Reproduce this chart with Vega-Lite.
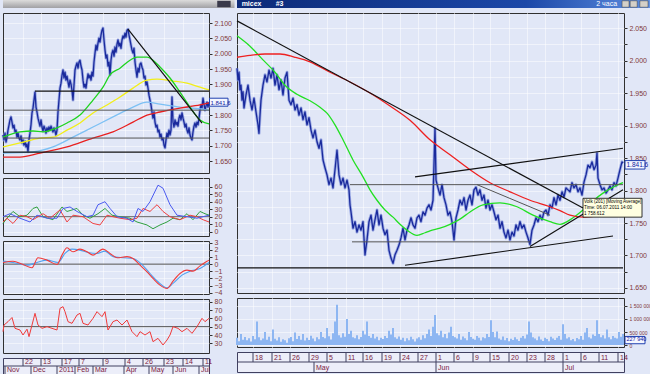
{
"$schema": "https://vega.github.io/schema/vega-lite/v6.json",
"padding": {"left": 1, "top": 0, "right": 0, "bottom": 0},
"background": "#e1e7f7",
"spacing": 0,
"config": {
  "view": {"stroke": "#303030", "strokeWidth": 1, "fill": "#e1e7f7"},
  "axis": {"labelFont": "Liberation Sans", "labelFontSize": 7, "labelColor": "#803838", "tickColor": "#303030", "tickSize": 3, "domain": false, "gridColor": "#ffffff", "gridDash": [1, 1], "gridOpacity": 1, "labelPadding": 2, "labelOverlap": false, "labelFlush": false, "labelBound": false},
  "text": {"font": "Liberation Sans"},
  "line": {"strokeWidth": 1.2, "clip": true, "strokeJoin": "round"},
  "rule": {"clip": true}
},
"datasets": {
  "lp": [{"t":0,"v":1735},{"t":1,"v":1719},{"t":2,"v":1741},{"t":3,"v":1712},{"t":4,"v":1728},{"t":5,"v":1751},{"t":6,"v":1767},{"t":7,"v":1784},{"t":8,"v":1794},{"t":9,"v":1777},{"t":10,"v":1758},{"t":11,"v":1767},{"t":12,"v":1745},{"t":13,"v":1751},{"t":14,"v":1728},{"t":15,"v":1741},{"t":16,"v":1725},{"t":17,"v":1719},{"t":18,"v":1732},{"t":19,"v":1709},{"t":20,"v":1719},{"t":21,"v":1702},{"t":22,"v":1715},{"t":23,"v":1696},{"t":24,"v":1706},{"t":25,"v":1680},{"t":26,"v":1719},{"t":27,"v":1741},{"t":28,"v":1768},{"t":29,"v":1807},{"t":30,"v":1823},{"t":31,"v":1849},{"t":32,"v":1875},{"t":33,"v":1826},{"t":34,"v":1810},{"t":35,"v":1790},{"t":36,"v":1777},{"t":37,"v":1764},{"t":38,"v":1784},{"t":39,"v":1761},{"t":40,"v":1748},{"t":41,"v":1764},{"t":42,"v":1755},{"t":43,"v":1741},{"t":44,"v":1758},{"t":45,"v":1748},{"t":46,"v":1761},{"t":47,"v":1751},{"t":48,"v":1764},{"t":49,"v":1755},{"t":50,"v":1745},{"t":51,"v":1758},{"t":52,"v":1748},{"t":53,"v":1735},{"t":54,"v":1751},{"t":55,"v":1810},{"t":56,"v":1849},{"t":57,"v":1888},{"t":58,"v":1904},{"t":59,"v":1930},{"t":60,"v":1947},{"t":61,"v":1921},{"t":62,"v":1940},{"t":63,"v":1914},{"t":64,"v":1927},{"t":65,"v":1908},{"t":66,"v":1891},{"t":67,"v":1914},{"t":68,"v":1901},{"t":69,"v":1881},{"t":70,"v":1849},{"t":71,"v":1898},{"t":72,"v":1947},{"t":73,"v":1960},{"t":74,"v":1970},{"t":75,"v":1953},{"t":76,"v":1973},{"t":77,"v":1979},{"t":78,"v":1960},{"t":79,"v":1947},{"t":80,"v":1914},{"t":81,"v":1891},{"t":82,"v":1901},{"t":83,"v":1888},{"t":84,"v":1914},{"t":85,"v":1934},{"t":86,"v":1921},{"t":87,"v":1930},{"t":88,"v":1914},{"t":89,"v":1940},{"t":90,"v":1927},{"t":91,"v":1973},{"t":92,"v":2002},{"t":93,"v":2028},{"t":94,"v":2012},{"t":95,"v":2035},{"t":96,"v":2051},{"t":97,"v":2038},{"t":98,"v":2061},{"t":99,"v":2077},{"t":100,"v":2084},{"t":101,"v":2045},{"t":102,"v":2012},{"t":103,"v":1986},{"t":104,"v":1996},{"t":105,"v":1960},{"t":106,"v":1973},{"t":107,"v":1931},{"t":108,"v":1979},{"t":109,"v":2002},{"t":110,"v":2012},{"t":111,"v":1992},{"t":112,"v":2022},{"t":113,"v":2005},{"t":114,"v":2031},{"t":115,"v":2045},{"t":116,"v":2025},{"t":117,"v":2035},{"t":118,"v":2018},{"t":119,"v":2045},{"t":120,"v":2058},{"t":121,"v":2051},{"t":122,"v":2067},{"t":123,"v":2054},{"t":124,"v":2077},{"t":125,"v":2080},{"t":126,"v":2061},{"t":127,"v":2045},{"t":128,"v":2028},{"t":129,"v":2012},{"t":130,"v":2002},{"t":131,"v":2018},{"t":132,"v":1973},{"t":133,"v":1947},{"t":134,"v":1924},{"t":135,"v":1953},{"t":136,"v":1940},{"t":137,"v":1966},{"t":138,"v":1970},{"t":139,"v":1956},{"t":140,"v":1947},{"t":141,"v":1921},{"t":142,"v":1927},{"t":143,"v":1898},{"t":144,"v":1908},{"t":145,"v":1888},{"t":146,"v":1865},{"t":147,"v":1849},{"t":148,"v":1833},{"t":149,"v":1810},{"t":150,"v":1790},{"t":151,"v":1810},{"t":152,"v":1777},{"t":153,"v":1761},{"t":154,"v":1767},{"t":155,"v":1745},{"t":156,"v":1751},{"t":157,"v":1728},{"t":158,"v":1738},{"t":159,"v":1719},{"t":160,"v":1725},{"t":161,"v":1702},{"t":162,"v":1693},{"t":163,"v":1719},{"t":164,"v":1741},{"t":165,"v":1728},{"t":166,"v":1751},{"t":167,"v":1735},{"t":168,"v":1751},{"t":169,"v":1859},{"t":170,"v":1777},{"t":171,"v":1761},{"t":172,"v":1784},{"t":173,"v":1768},{"t":174,"v":1777},{"t":175,"v":1764},{"t":176,"v":1790},{"t":177,"v":1800},{"t":178,"v":1784},{"t":179,"v":1807},{"t":180,"v":1790},{"t":181,"v":1777},{"t":182,"v":1761},{"t":183,"v":1771},{"t":184,"v":1751},{"t":185,"v":1741},{"t":186,"v":1758},{"t":187,"v":1735},{"t":188,"v":1725},{"t":189,"v":1719},{"t":190,"v":1745},{"t":191,"v":1764},{"t":192,"v":1774},{"t":193,"v":1761},{"t":194,"v":1777},{"t":195,"v":1768},{"t":196,"v":1790},{"t":197,"v":1816},{"t":198,"v":1833},{"t":199,"v":1823},{"t":200,"v":1855},{"t":201,"v":1836},{"t":202,"v":1816},{"t":203,"v":1829},{"t":204,"v":1842},{"t":205,"v":1826},{"t":206,"v":1842}],
  "lg": [{"t":0,"v":1728},{"t":17,"v":1745},{"t":30,"v":1748},{"t":40,"v":1745},{"t":54,"v":1758},{"t":64,"v":1774},{"t":77,"v":1800},{"t":90,"v":1849},{"t":100,"v":1891},{"t":107,"v":1931},{"t":117,"v":1953},{"t":127,"v":1979},{"t":134,"v":1989},{"t":144,"v":1989},{"t":150,"v":1979},{"t":157,"v":1957},{"t":167,"v":1921},{"t":177,"v":1875},{"t":187,"v":1826},{"t":197,"v":1784},{"t":206,"v":1771}],
  "ly": [{"t":0,"v":1696},{"t":17,"v":1709},{"t":37,"v":1725},{"t":50,"v":1728},{"t":64,"v":1751},{"t":77,"v":1774},{"t":90,"v":1807},{"t":104,"v":1833},{"t":117,"v":1859},{"t":130,"v":1888},{"t":144,"v":1914},{"t":154,"v":1917},{"t":170,"v":1911},{"t":184,"v":1904},{"t":197,"v":1891},{"t":206,"v":1882}],
  "lb": [{"t":0,"v":1676},{"t":30,"v":1680},{"t":50,"v":1696},{"t":70,"v":1728},{"t":90,"v":1761},{"t":110,"v":1794},{"t":130,"v":1826},{"t":144,"v":1842},{"t":157,"v":1836},{"t":177,"v":1826},{"t":197,"v":1820},{"t":206,"v":1816}],
  "lr": [{"t":0,"v":1663},{"t":17,"v":1663},{"t":37,"v":1676},{"t":64,"v":1696},{"t":90,"v":1725},{"t":110,"v":1745},{"t":130,"v":1777},{"t":144,"v":1800},{"t":157,"v":1810},{"t":177,"v":1823},{"t":197,"v":1833},{"t":206,"v":1840}],
  "llb": [{"t":125,"t2":199,"v":2080,"v2":1774},{"t":32,"t2":206,"v":1878,"v2":1878},{"t":0,"t2":206,"v":1679,"v2":1679}],
  "llg": [{"t":0,"t2":206,"v":1816,"v2":1816},{"t":0,"t2":206,"v":1725,"v2":1725}],
  "lbox": [{"t":206.5,"t2":225,"v":1855,"v2":1829,"s":"1.841.6"}],
  "ih": [{"t":0,"t2":206,"v":20,"v2":20}],
  "ia": [{"t":0,"v":20},{"t":7,"v":24},{"t":17,"v":18},{"t":27,"v":13},{"t":34,"v":22},{"t":44,"v":18},{"t":54,"v":18},{"t":60,"v":31},{"t":67,"v":33},{"t":74,"v":27},{"t":84,"v":20},{"t":90,"v":22},{"t":95,"v":36},{"t":102,"v":40},{"t":107,"v":31},{"t":114,"v":20},{"t":124,"v":18},{"t":130,"v":13},{"t":135,"v":31},{"t":140,"v":27},{"t":147,"v":40},{"t":155,"v":62},{"t":160,"v":58},{"t":167,"v":36},{"t":174,"v":22},{"t":184,"v":20},{"t":194,"v":18},{"t":200,"v":20},{"t":206,"v":22}],
  "ib": [{"t":0,"v":13},{"t":4,"v":18},{"t":10,"v":11},{"t":17,"v":22},{"t":24,"v":20},{"t":30,"v":16},{"t":40,"v":24},{"t":47,"v":18},{"t":57,"v":29},{"t":64,"v":13},{"t":70,"v":22},{"t":80,"v":20},{"t":90,"v":11},{"t":97,"v":9},{"t":104,"v":22},{"t":110,"v":20},{"t":117,"v":18},{"t":127,"v":16},{"t":134,"v":18},{"t":140,"v":31},{"t":147,"v":27},{"t":154,"v":36},{"t":160,"v":27},{"t":167,"v":20},{"t":177,"v":16},{"t":187,"v":22},{"t":194,"v":20},{"t":200,"v":16},{"t":206,"v":13}],
  "ic": [{"t":0,"v":11},{"t":4,"v":18},{"t":10,"v":27},{"t":17,"v":20},{"t":24,"v":22},{"t":30,"v":31},{"t":34,"v":33},{"t":40,"v":20},{"t":50,"v":16},{"t":59,"v":33},{"t":64,"v":27},{"t":74,"v":31},{"t":80,"v":22},{"t":87,"v":18},{"t":95,"v":24},{"t":102,"v":31},{"t":109,"v":22},{"t":117,"v":20},{"t":127,"v":18},{"t":134,"v":13},{"t":144,"v":9},{"t":150,"v":4},{"t":157,"v":9},{"t":164,"v":13},{"t":170,"v":18},{"t":177,"v":16},{"t":184,"v":24},{"t":190,"v":16},{"t":197,"v":27},{"t":202,"v":24},{"t":206,"v":22}],
  "mh": [{"t":0,"t2":206,"v":0,"v2":0}],
  "ma": [{"t":0,"v":0.23},{"t":10,"v":0.4},{"t":20,"v":-0.06},{"t":29,"v":-0.5},{"t":35,"v":0.9},{"t":44,"v":0.56},{"t":54,"v":-0.06},{"t":59,"v":1.26},{"t":64,"v":2.29},{"t":70,"v":1.73},{"t":77,"v":2.1},{"t":84,"v":1.73},{"t":90,"v":1.26},{"t":100,"v":2.1},{"t":107,"v":1.5},{"t":114,"v":0.9},{"t":124,"v":1.05},{"t":130,"v":0.8},{"t":137,"v":-0.15},{"t":144,"v":-1.08},{"t":150,"v":-2.0},{"t":157,"v":-2.94},{"t":164,"v":-3.4},{"t":170,"v":-2.38},{"t":177,"v":-1.31},{"t":184,"v":-0.84},{"t":190,"v":-0.98},{"t":197,"v":-0.24},{"t":204,"v":0.4},{"t":206,"v":0.56}],
  "mb": [{"t":0,"v":0.42},{"t":10,"v":0.23},{"t":24,"v":-0.14},{"t":34,"v":0.23},{"t":44,"v":0.56},{"t":55,"v":0.23},{"t":62,"v":1.5},{"t":69,"v":2.1},{"t":77,"v":1.96},{"t":85,"v":1.64},{"t":94,"v":1.5},{"t":102,"v":1.82},{"t":110,"v":1.05},{"t":120,"v":0.9},{"t":130,"v":0.8},{"t":139,"v":-0.06},{"t":147,"v":-1.31},{"t":155,"v":-2.47},{"t":164,"v":-3.31},{"t":170,"v":-2.7},{"t":179,"v":-1.54},{"t":187,"v":-0.98},{"t":197,"v":-0.6},{"t":206,"v":0.23}],
  "sh": [{"t":0,"t2":206,"v":50,"v2":50}],
  "rs": [{"t":0,"v":44},{"t":1,"v":52},{"t":5,"v":56},{"t":9,"v":61},{"t":12,"v":48},{"t":17,"v":46},{"t":20,"v":40},{"t":24,"v":47},{"t":26,"v":38},{"t":29,"v":52},{"t":32,"v":66},{"t":35,"v":52},{"t":39,"v":48},{"t":44,"v":50},{"t":49,"v":48},{"t":54,"v":46},{"t":57,"v":72},{"t":60,"v":74},{"t":62,"v":68},{"t":65,"v":56},{"t":69,"v":54},{"t":74,"v":64},{"t":77,"v":66},{"t":80,"v":54},{"t":85,"v":52},{"t":90,"v":60},{"t":94,"v":68},{"t":99,"v":62},{"t":102,"v":68},{"t":105,"v":46},{"t":110,"v":56},{"t":114,"v":58},{"t":119,"v":52},{"t":124,"v":58},{"t":129,"v":44},{"t":134,"v":38},{"t":137,"v":44},{"t":142,"v":40},{"t":147,"v":44},{"t":150,"v":32},{"t":155,"v":36},{"t":160,"v":28},{"t":164,"v":34},{"t":167,"v":40},{"t":170,"v":50},{"t":175,"v":48},{"t":179,"v":44},{"t":184,"v":48},{"t":189,"v":42},{"t":194,"v":50},{"t":199,"v":60},{"t":202,"v":56},{"t":206,"v":60}],
  "ld": [{"t":20,"v":1,"v2":2,"s":"22"},{"t":38,"v":1,"v2":2,"s":"13"},{"t":59,"v":1,"v2":2,"s":"17"},{"t":76,"v":1,"v2":2,"s":"7"},{"t":100,"v":1,"v2":2,"s":"9"},{"t":122,"v":1,"v2":2,"s":"4"},{"t":140,"v":1,"v2":2,"s":"26"},{"t":161,"v":1,"v2":2,"s":"23"},{"t":180,"v":1,"v2":2,"s":"14"},{"t":200,"v":1,"v2":2,"s":"11"},{"t":2,"v":0,"v2":1,"s":"Nov"},{"t":28,"v":0,"v2":1,"s":"Dec"},{"t":54,"v":0,"v2":1,"s":"2011"},{"t":72,"v":0,"v2":1,"s":"Feb"},{"t":90,"v":0,"v2":1,"s":"Mar"},{"t":121,"v":0,"v2":1,"s":"Apr"},{"t":146,"v":0,"v2":1,"s":"May"},{"t":170,"v":0,"v2":1,"s":"Jun"},{"t":196,"v":0,"v2":1,"s":"Jul"}],
  "rp": [{"t":0,"v":1988},{"t":1,"v":1970},{"t":2,"v":1982},{"t":3,"v":1955},{"t":4,"v":1962},{"t":5,"v":1939},{"t":6,"v":1952},{"t":7,"v":1927},{"t":9,"v":1947},{"t":11,"v":1962},{"t":13,"v":1939},{"t":15,"v":1924},{"t":17,"v":1942},{"t":19,"v":1921},{"t":21,"v":1901},{"t":22,"v":1888},{"t":23,"v":1916},{"t":24,"v":1939},{"t":26,"v":1962},{"t":28,"v":1978},{"t":30,"v":1967},{"t":32,"v":1985},{"t":34,"v":1973},{"t":36,"v":1988},{"t":38,"v":1962},{"t":40,"v":1978},{"t":42,"v":1955},{"t":44,"v":1970},{"t":46,"v":1947},{"t":48,"v":1973},{"t":50,"v":1982},{"t":52,"v":1939},{"t":54,"v":1932},{"t":56,"v":1942},{"t":58,"v":1924},{"t":60,"v":1932},{"t":62,"v":1916},{"t":64,"v":1927},{"t":66,"v":1909},{"t":68,"v":1921},{"t":70,"v":1901},{"t":72,"v":1912},{"t":74,"v":1893},{"t":76,"v":1881},{"t":78,"v":1893},{"t":80,"v":1875},{"t":82,"v":1865},{"t":84,"v":1878},{"t":86,"v":1847},{"t":88,"v":1835},{"t":90,"v":1824},{"t":92,"v":1809},{"t":94,"v":1819},{"t":96,"v":1804},{"t":98,"v":1832},{"t":100,"v":1862},{"t":102,"v":1824},{"t":104,"v":1809},{"t":106,"v":1819},{"t":108,"v":1804},{"t":110,"v":1816},{"t":112,"v":1801},{"t":113,"v":1778},{"t":114,"v":1767},{"t":116,"v":1742},{"t":118,"v":1752},{"t":120,"v":1736},{"t":122,"v":1747},{"t":124,"v":1739},{"t":126,"v":1752},{"t":128,"v":1701},{"t":130,"v":1724},{"t":132,"v":1752},{"t":134,"v":1762},{"t":136,"v":1739},{"t":138,"v":1755},{"t":140,"v":1770},{"t":142,"v":1747},{"t":144,"v":1762},{"t":146,"v":1742},{"t":148,"v":1732},{"t":150,"v":1739},{"t":152,"v":1708},{"t":154,"v":1696},{"t":156,"v":1688},{"t":158,"v":1701},{"t":160,"v":1708},{"t":162,"v":1716},{"t":164,"v":1727},{"t":166,"v":1742},{"t":168,"v":1724},{"t":170,"v":1739},{"t":172,"v":1747},{"t":174,"v":1758},{"t":176,"v":1747},{"t":178,"v":1742},{"t":180,"v":1758},{"t":182,"v":1762},{"t":184,"v":1752},{"t":186,"v":1767},{"t":188,"v":1762},{"t":190,"v":1773},{"t":192,"v":1778},{"t":194,"v":1770},{"t":196,"v":1785},{"t":198,"v":1896},{"t":199,"v":1816},{"t":201,"v":1804},{"t":203,"v":1793},{"t":205,"v":1809},{"t":207,"v":1789},{"t":209,"v":1778},{"t":211,"v":1762},{"t":213,"v":1767},{"t":215,"v":1752},{"t":217,"v":1724},{"t":219,"v":1758},{"t":221,"v":1770},{"t":223,"v":1785},{"t":225,"v":1778},{"t":227,"v":1789},{"t":229,"v":1770},{"t":231,"v":1785},{"t":233,"v":1793},{"t":235,"v":1778},{"t":237,"v":1801},{"t":239,"v":1805},{"t":241,"v":1793},{"t":243,"v":1801},{"t":245,"v":1785},{"t":247,"v":1793},{"t":249,"v":1773},{"t":251,"v":1785},{"t":253,"v":1770},{"t":255,"v":1778},{"t":257,"v":1767},{"t":259,"v":1755},{"t":261,"v":1762},{"t":263,"v":1742},{"t":265,"v":1752},{"t":267,"v":1736},{"t":269,"v":1727},{"t":271,"v":1739},{"t":273,"v":1724},{"t":275,"v":1736},{"t":277,"v":1730},{"t":279,"v":1747},{"t":281,"v":1739},{"t":283,"v":1752},{"t":285,"v":1742},{"t":287,"v":1747},{"t":289,"v":1736},{"t":291,"v":1727},{"t":293,"v":1717},{"t":295,"v":1739},{"t":297,"v":1747},{"t":299,"v":1758},{"t":301,"v":1752},{"t":303,"v":1762},{"t":305,"v":1755},{"t":307,"v":1767},{"t":309,"v":1770},{"t":311,"v":1762},{"t":313,"v":1778},{"t":315,"v":1773},{"t":317,"v":1789},{"t":319,"v":1778},{"t":321,"v":1793},{"t":323,"v":1785},{"t":325,"v":1798},{"t":327,"v":1790},{"t":329,"v":1804},{"t":331,"v":1801},{"t":333,"v":1798},{"t":335,"v":1812},{"t":337,"v":1804},{"t":339,"v":1809},{"t":341,"v":1798},{"t":343,"v":1804},{"t":345,"v":1793},{"t":347,"v":1813},{"t":349,"v":1824},{"t":351,"v":1839},{"t":353,"v":1835},{"t":355,"v":1844},{"t":357,"v":1832},{"t":359,"v":1839},{"t":360,"v":1858},{"t":361,"v":1819},{"t":363,"v":1809},{"t":365,"v":1801},{"t":367,"v":1804},{"t":369,"v":1796},{"t":371,"v":1801},{"t":373,"v":1807},{"t":375,"v":1801},{"t":377,"v":1812},{"t":379,"v":1807},{"t":381,"v":1819},{"t":383,"v":1832},{"t":385,"v":1844},{"t":386,"v":1842}],
  "rg": [{"t":0,"v":2038},{"t":13,"v":2022},{"t":26,"v":2001},{"t":38,"v":1982},{"t":48,"v":1962},{"t":60,"v":1948},{"t":73,"v":1938},{"t":83,"v":1928},{"t":90,"v":1919},{"t":98,"v":1901},{"t":106,"v":1878},{"t":116,"v":1847},{"t":126,"v":1821},{"t":133,"v":1801},{"t":140,"v":1785},{"t":148,"v":1770},{"t":156,"v":1759},{"t":163,"v":1748},{"t":170,"v":1739},{"t":180,"v":1731},{"t":188,"v":1735},{"t":193,"v":1738},{"t":203,"v":1742},{"t":213,"v":1748},{"t":223,"v":1756},{"t":233,"v":1767},{"t":246,"v":1778},{"t":263,"v":1781},{"t":280,"v":1775},{"t":296,"v":1762},{"t":313,"v":1752},{"t":323,"v":1748},{"t":336,"v":1758},{"t":346,"v":1770},{"t":356,"v":1784},{"t":366,"v":1796},{"t":376,"v":1805},{"t":386,"v":1812}],
  "rr": [{"t":0,"v":2005},{"t":13,"v":2008},{"t":28,"v":2010},{"t":43,"v":2010},{"t":58,"v":2005},{"t":73,"v":1998},{"t":93,"v":1982},{"t":113,"v":1967},{"t":133,"v":1950},{"t":153,"v":1930},{"t":173,"v":1908},{"t":193,"v":1878},{"t":213,"v":1855},{"t":233,"v":1832},{"t":253,"v":1812},{"t":273,"v":1798},{"t":293,"v":1785},{"t":313,"v":1775},{"t":323,"v":1769},{"t":333,"v":1762},{"t":346,"v":1759},{"t":366,"v":1762},{"t":386,"v":1764}],
  "rlb": [{"t":0,"t2":346,"v":2061,"v2":1773},{"t":178,"t2":386,"v":1821,"v2":1865},{"t":168,"t2":376,"v":1685,"v2":1730},{"t":293,"t2":386,"v":1714,"v2":1801},{"t":0,"t2":386,"v":1681,"v2":1681}],
  "rlg": [{"t":240,"t2":313,"v":1809,"v2":1762},{"t":113,"t2":386,"v":1809,"v2":1809},{"t":115,"t2":293,"v":1721,"v2":1721}],
  "tip": [{"t":346,"t2":405,"v":1788,"v2":1759}],
  "tipt": [{"t":347,"v":1787,"s":"Volk (201) [Moving Average]"},{"t":347,"v":1778,"s":"Time: 06.07.2011 14:00"},{"t":347,"v":1769,"s":"1 758.612"}],
  "rbox": [{"t":388,"t2":408,"v":1846,"v2":1833,"s":"1.841.6"}],
  "vbox": [{"t":388,"t2":408,"v":330000,"v2":50000,"s":"227 940"}],
  "rv": [{"t":0,"v":280000},{"t":2,"v":150000},{"t":4,"v":420000},{"t":6,"v":200000},{"t":8,"v":310000},{"t":10,"v":180000},{"t":12,"v":260000},{"t":14,"v":140000},{"t":16,"v":350000},{"t":18,"v":220000},{"t":20,"v":900000},{"t":22,"v":300000},{"t":24,"v":180000},{"t":26,"v":250000},{"t":28,"v":500000},{"t":30,"v":200000},{"t":32,"v":320000},{"t":34,"v":150000},{"t":36,"v":600000},{"t":38,"v":240000},{"t":40,"v":170000},{"t":42,"v":300000},{"t":44,"v":130000},{"t":46,"v":220000},{"t":48,"v":180000},{"t":50,"v":90000},{"t":52,"v":260000},{"t":54,"v":310000},{"t":56,"v":150000},{"t":58,"v":480000},{"t":60,"v":230000},{"t":62,"v":350000},{"t":64,"v":200000},{"t":66,"v":420000},{"t":68,"v":170000},{"t":70,"v":280000},{"t":72,"v":190000},{"t":74,"v":360000},{"t":76,"v":250000},{"t":78,"v":150000},{"t":80,"v":300000},{"t":82,"v":220000},{"t":84,"v":500000},{"t":86,"v":310000},{"t":88,"v":260000},{"t":90,"v":650000},{"t":92,"v":340000},{"t":94,"v":210000},{"t":96,"v":450000},{"t":98,"v":900000},{"t":100,"v":1550000},{"t":102,"v":380000},{"t":104,"v":290000},{"t":106,"v":450000},{"t":108,"v":320000},{"t":110,"v":1000000},{"t":112,"v":420000},{"t":114,"v":550000},{"t":116,"v":300000},{"t":118,"v":260000},{"t":120,"v":380000},{"t":122,"v":220000},{"t":124,"v":310000},{"t":126,"v":550000},{"t":128,"v":400000},{"t":130,"v":900000},{"t":132,"v":350000},{"t":134,"v":280000},{"t":136,"v":420000},{"t":138,"v":250000},{"t":140,"v":320000},{"t":142,"v":180000},{"t":144,"v":280000},{"t":146,"v":230000},{"t":148,"v":350000},{"t":150,"v":270000},{"t":152,"v":550000},{"t":154,"v":400000},{"t":156,"v":650000},{"t":158,"v":300000},{"t":160,"v":240000},{"t":162,"v":330000},{"t":164,"v":200000},{"t":166,"v":280000},{"t":168,"v":150000},{"t":170,"v":260000},{"t":172,"v":180000},{"t":174,"v":320000},{"t":176,"v":220000},{"t":178,"v":140000},{"t":180,"v":250000},{"t":182,"v":300000},{"t":184,"v":200000},{"t":186,"v":380000},{"t":188,"v":260000},{"t":190,"v":420000},{"t":192,"v":600000},{"t":194,"v":350000},{"t":196,"v":700000},{"t":198,"v":1150000},{"t":200,"v":450000},{"t":202,"v":380000},{"t":204,"v":550000},{"t":206,"v":300000},{"t":208,"v":420000},{"t":210,"v":260000},{"t":212,"v":480000},{"t":214,"v":700000},{"t":216,"v":350000},{"t":218,"v":300000},{"t":220,"v":250000},{"t":222,"v":420000},{"t":224,"v":200000},{"t":226,"v":330000},{"t":228,"v":260000},{"t":230,"v":180000},{"t":232,"v":500000},{"t":234,"v":310000},{"t":236,"v":240000},{"t":238,"v":200000},{"t":240,"v":350000},{"t":242,"v":280000},{"t":244,"v":170000},{"t":246,"v":300000},{"t":248,"v":260000},{"t":250,"v":420000},{"t":252,"v":310000},{"t":254,"v":950000},{"t":256,"v":500000},{"t":258,"v":300000},{"t":260,"v":520000},{"t":262,"v":250000},{"t":264,"v":200000},{"t":266,"v":330000},{"t":268,"v":180000},{"t":270,"v":270000},{"t":272,"v":150000},{"t":274,"v":240000},{"t":276,"v":190000},{"t":278,"v":300000},{"t":280,"v":220000},{"t":282,"v":160000},{"t":284,"v":280000},{"t":286,"v":350000},{"t":288,"v":250000},{"t":290,"v":400000},{"t":292,"v":900000},{"t":294,"v":480000},{"t":296,"v":300000},{"t":298,"v":250000},{"t":300,"v":180000},{"t":302,"v":330000},{"t":304,"v":210000},{"t":306,"v":160000},{"t":308,"v":280000},{"t":310,"v":230000},{"t":312,"v":150000},{"t":314,"v":320000},{"t":316,"v":250000},{"t":318,"v":190000},{"t":320,"v":280000},{"t":322,"v":350000},{"t":324,"v":200000},{"t":326,"v":800000},{"t":328,"v":420000},{"t":330,"v":250000},{"t":332,"v":300000},{"t":334,"v":180000},{"t":336,"v":230000},{"t":338,"v":150000},{"t":340,"v":270000},{"t":342,"v":220000},{"t":344,"v":350000},{"t":346,"v":200000},{"t":348,"v":480000},{"t":350,"v":650000},{"t":352,"v":300000},{"t":354,"v":250000},{"t":356,"v":400000},{"t":358,"v":350000},{"t":360,"v":950000},{"t":362,"v":420000},{"t":364,"v":300000},{"t":366,"v":380000},{"t":368,"v":250000},{"t":370,"v":600000},{"t":372,"v":300000},{"t":374,"v":220000},{"t":376,"v":350000},{"t":378,"v":280000},{"t":380,"v":250000},{"t":382,"v":500000},{"t":384,"v":320000},{"t":386,"v":420000}],
  "rd": [{"t":16,"v":1,"v2":2,"s":"18"},{"t":35,"v":1,"v2":2,"s":"21"},{"t":53,"v":1,"v2":2,"s":"26"},{"t":72,"v":1,"v2":2,"s":"29"},{"t":90,"v":1,"v2":2,"s":"5"},{"t":109,"v":1,"v2":2,"s":"11"},{"t":126,"v":1,"v2":2,"s":"16"},{"t":145,"v":1,"v2":2,"s":"19"},{"t":163,"v":1,"v2":2,"s":"24"},{"t":181,"v":1,"v2":2,"s":"27"},{"t":199,"v":1,"v2":2,"s":"1"},{"t":217,"v":1,"v2":2,"s":"6"},{"t":236,"v":1,"v2":2,"s":"9"},{"t":253,"v":1,"v2":2,"s":"15"},{"t":272,"v":1,"v2":2,"s":"20"},{"t":290,"v":1,"v2":2,"s":"23"},{"t":308,"v":1,"v2":2,"s":"28"},{"t":326,"v":1,"v2":2,"s":"1"},{"t":344,"v":1,"v2":2,"s":"6"},{"t":362,"v":1,"v2":2,"s":"11"},{"t":381,"v":1,"v2":2,"s":"14"},{"t":77,"v":0,"v2":1,"s":"May"},{"t":199,"v":0,"v2":1,"s":"Jun"},{"t":326,"v":0,"v2":1,"s":"Jul"}]
},
"hconcat": [
 {"spacing": 5, "bounds": "flush", "vconcat": [
  {"width": 206, "height": 8, "view": {"stroke": null, "fill": null},
   "encoding": {"x": {"field": "t", "type": "quantitative", "scale": {"domain": [0, 1], "nice": false, "zero": false}, "axis": null},
                "y": {"field": "v", "type": "quantitative", "scale": {"domain": [0, 1], "nice": false, "zero": false}, "axis": null}},
   "layer": [
    {"data": {"values": [{"t": 0, "t2": 1.124, "v": 0, "v2": 1}]}, "mark": {"type": "rect", "fill": {"gradient": "linear", "x1": 0, "y1": 0, "x2": 0, "y2": 1, "stops": [{"offset": 0, "color": "#dcdcdc"}, {"offset": 1, "color": "#a0a0a4"}]}}, "encoding": {"x2": {"field": "t2"}, "y2": {"field": "v2"}}},
    {"data": {"values": [{"t": 1.04, "t2": 1.105, "v": 0.1, "v2": 0.9}]}, "mark": {"type": "rect", "fill": "#3a3a4a"}, "encoding": {"x2": {"field": "t2"}, "y2": {"field": "v2"}}}
   ]},
  {"width": 206, "height": 160,
   "encoding": {"x": {"field": "t", "type": "quantitative", "scale": {"domain": [0, 206], "nice": false, "zero": false}, "axis": {"values": [20,38,59,76,100,122,140,161,180,200], "labels": false, "ticks": false, "grid": true, "title": null}},
                "y": {"field": "v", "type": "quantitative", "scale": {"domain": [1611, 2133], "nice": false, "zero": false}, "axis": {"orient": "right", "values": [1650,1700,1750,1800,1850,1900,1950,2000,2050,2100], "labelExpr": "datum.value == 1850 ? '' : replace(format(datum.value, ',d'), ',', '.')", "grid": true, "title": null}}},
   "layer": [
    {"data": {"name": "lp"}, "mark": {"type": "line", "color": "#8c9ce0", "strokeWidth": 3, "opacity": 0.8}},
    {"data": {"name": "lp"}, "mark": {"type": "line", "color": "#1a2a9c", "strokeWidth": 1.3}},
    {"data": {"name": "lb"}, "mark": {"type": "line", "color": "#7cc0f4", "interpolate": "monotone", "strokeWidth": 1.3}},
    {"data": {"name": "lr"}, "mark": {"type": "line", "color": "#e82020", "interpolate": "monotone", "strokeWidth": 1.3}},
    {"data": {"name": "ly"}, "mark": {"type": "line", "color": "#f2ee18", "interpolate": "monotone", "strokeWidth": 1.3}},
    {"data": {"name": "lg"}, "mark": {"type": "line", "color": "#1ed41e", "interpolate": "monotone", "strokeWidth": 1.3}},
    {"data": {"name": "llg"}, "mark": {"type": "rule", "color": "#555555", "strokeWidth": 1}, "encoding": {"x2": {"field": "t2"}, "y2": {"field": "v2"}}},
    {"data": {"name": "llb"}, "mark": {"type": "rule", "color": "#111111", "strokeWidth": 1.2}, "encoding": {"x2": {"field": "t2"}, "y2": {"field": "v2"}}},
    {"data": {"name": "lbox"}, "mark": {"type": "rect", "fill": "#f4f6ff", "stroke": "#2040b0", "strokeWidth": 1}, "encoding": {"x2": {"field": "t2"}, "y2": {"field": "v2"}}},
    {"data": {"name": "lbox"}, "mark": {"type": "text", "align": "left", "baseline": "top", "dx": 1, "dy": 1.5, "fontSize": 6, "color": "#1020a0"}, "encoding": {"text": {"field": "s"}}}
   ]},
  {"width": 206, "height": 58,
   "encoding": {"x": {"field": "t", "type": "quantitative", "scale": {"domain": [0, 206], "nice": false, "zero": false}, "axis": {"values": [20,38,59,76,100,122,140,161,180,200], "labels": false, "ticks": false, "grid": true, "title": null}},
                "y": {"field": "v", "type": "quantitative", "scale": {"domain": [-5.7, 71.6], "nice": false, "zero": false}, "axis": {"orient": "right", "values": [0,10,20,30,40,50,60], "grid": true, "title": null}}},
   "layer": [
    {"data": {"name": "ih"}, "mark": {"type": "rule", "color": "#606060", "strokeWidth": 1}, "encoding": {"x2": {"field": "t2"}, "y2": {"field": "v2"}}},
    {"data": {"name": "ic"}, "mark": {"type": "line", "color": "#30a040", "strokeWidth": 1}},
    {"data": {"name": "ib"}, "mark": {"type": "line", "color": "#f04040", "strokeWidth": 1}},
    {"data": {"name": "ia"}, "mark": {"type": "line", "color": "#4a5af0", "strokeWidth": 1}}
   ]},
  {"width": 206, "height": 53,
   "encoding": {"x": {"field": "t", "type": "quantitative", "scale": {"domain": [0, 206], "nice": false, "zero": false}, "axis": {"values": [20,38,59,76,100,122,140,161,180,200], "labels": false, "ticks": false, "grid": true, "title": null}},
                "y": {"field": "v", "type": "quantitative", "scale": {"domain": [-4.18, 3.24], "nice": false, "zero": false}, "axis": {"orient": "right", "values": [-4,-3,-2,-1,0,1,2,3], "grid": true, "title": null}}},
   "layer": [
    {"data": {"name": "mh"}, "mark": {"type": "rule", "color": "#505050", "strokeWidth": 1}, "encoding": {"x2": {"field": "t2"}, "y2": {"field": "v2"}}},
    {"data": {"name": "mb"}, "mark": {"type": "line", "color": "#50a0f0", "interpolate": "monotone", "strokeWidth": 1.1}},
    {"data": {"name": "ma"}, "mark": {"type": "line", "color": "#f03a3a", "interpolate": "monotone", "strokeWidth": 1.1}}
   ]},
  {"width": 206, "height": 54,
   "encoding": {"x": {"field": "t", "type": "quantitative", "scale": {"domain": [0, 206], "nice": false, "zero": false}, "axis": {"values": [20,38,59,76,100,122,140,161,180,200], "labels": false, "ticks": false, "grid": true, "title": null}},
                "y": {"field": "v", "type": "quantitative", "scale": {"domain": [18.4, 83.2], "nice": false, "zero": false}, "axis": {"orient": "right", "values": [30,40,50,60,70,80], "grid": true, "title": null}}},
   "layer": [
    {"data": {"name": "sh"}, "mark": {"type": "rule", "color": "#505050", "strokeWidth": 1}, "encoding": {"x2": {"field": "t2"}, "y2": {"field": "v2"}}},
    {"data": {"name": "rs"}, "mark": {"type": "line", "color": "#f03a3a", "strokeWidth": 1}}
   ]},
  {"width": 206, "height": 16, "view": {"stroke": "#404060", "fill": "#eceef9"},
   "encoding": {"x": {"field": "t", "type": "quantitative", "scale": {"domain": [0, 206], "nice": false, "zero": false}, "axis": null},
                "y": {"field": "v", "type": "quantitative", "scale": {"domain": [0, 2], "nice": false, "zero": false}, "axis": null}},
   "layer": [
    {"data": {"values": [{"t": 0, "t2": 206, "v": 1}]}, "mark": {"type": "rule", "color": "#404060"}, "encoding": {"x2": {"field": "t2"}}},
    {"data": {"name": "ld"}, "mark": {"type": "rule", "color": "#404060"}, "encoding": {"y2": {"field": "v2"}}},
    {"data": {"name": "ld"}, "mark": {"type": "text", "align": "left", "baseline": "bottom", "dx": 2, "dy": -1, "fontSize": 7, "color": "#7a2040"}, "encoding": {"text": {"field": "s"}}}
   ]}
 ]},
 {"spacing": 5, "bounds": "flush", "vconcat": [
  {"width": 387, "height": 8, "view": {"stroke": null, "fill": null},
   "encoding": {"x": {"field": "t", "type": "quantitative", "scale": {"domain": [0, 1], "nice": false, "zero": false}, "axis": null},
                "y": {"field": "v", "type": "quantitative", "scale": {"domain": [0, 1], "nice": false, "zero": false}, "axis": null}},
   "layer": [
    {"data": {"values": [{"t": 0, "t2": 1.067, "v": 0, "v2": 1}]}, "mark": {"type": "rect", "fill": {"gradient": "linear", "x1": 0, "y1": 0, "x2": 1, "y2": 0, "stops": [{"offset": 0, "color": "#0c2a78"}, {"offset": 0.7, "color": "#1c48a8"}, {"offset": 1, "color": "#5e8ee0"}]}}, "encoding": {"x2": {"field": "t2"}, "y2": {"field": "v2"}}},
    {"data": {"values": [{"t": 0.995, "t2": 1.013, "v": 0.1, "v2": 0.9}, {"t": 1.016, "t2": 1.034, "v": 0.1, "v2": 0.9}, {"t": 1.041, "t2": 1.062, "v": 0.1, "v2": 0.9}]}, "mark": {"type": "rect", "fill": "#d4d0c8", "stroke": "#404040", "strokeWidth": 0.5}, "encoding": {"x2": {"field": "t2"}, "y2": {"field": "v2"}}},
    {"data": {"values": [{"t": 0.012, "v": 0.5, "s": "micex"}, {"t": 0.1, "v": 0.5, "s": "#3"}]}, "mark": {"type": "text", "align": "left", "baseline": "middle", "fontSize": 7, "fontWeight": "bold", "color": "#ffffff"}, "encoding": {"text": {"field": "s"}}},
    {"data": {"values": [{"t": 0.982, "v": 0.5, "s": "2 часа"}]}, "mark": {"type": "text", "align": "right", "baseline": "middle", "fontSize": 7, "color": "#ffffff"}, "encoding": {"text": {"field": "s"}}}
   ]},
  {"width": 387, "height": 280,
   "encoding": {"x": {"field": "t", "type": "quantitative", "scale": {"domain": [0, 387], "nice": false, "zero": false}, "axis": {"values": [16,35,53,72,90,109,126,145,163,181,199,217,236,253,272,290,308,326,344,362,381], "labels": false, "ticks": false, "grid": true, "title": null}},
                "y": {"field": "v", "type": "quantitative", "scale": {"domain": [1642.3, 2073.1], "nice": false, "zero": false}, "axis": {"orient": "right", "values": [1650,1675,1700,1725,1750,1775,1800,1825,1850,1875,1900,1925,1950,1975,2000,2025,2050], "labelExpr": "datum.value % 50 == 0 ? replace(format(datum.value, ',d'), ',', '.') : ''", "grid": true, "title": null}}},
   "layer": [
    {"data": {"name": "rp"}, "mark": {"type": "line", "color": "#8c9ce0", "strokeWidth": 3, "opacity": 0.8}},
    {"data": {"name": "rp"}, "mark": {"type": "line", "color": "#1a2a9c", "strokeWidth": 1.3}},
    {"data": {"name": "rg"}, "mark": {"type": "line", "color": "#22e022", "interpolate": "monotone", "strokeWidth": 1.3}},
    {"data": {"name": "rr"}, "mark": {"type": "line", "color": "#ee2020", "interpolate": "monotone", "strokeWidth": 1.3}},
    {"data": {"name": "rlg"}, "mark": {"type": "rule", "color": "#555555", "strokeWidth": 1}, "encoding": {"x2": {"field": "t2"}, "y2": {"field": "v2"}}},
    {"data": {"name": "rlb"}, "mark": {"type": "rule", "color": "#111111", "strokeWidth": 1.2}, "encoding": {"x2": {"field": "t2"}, "y2": {"field": "v2"}}},
    {"data": {"name": "tip"}, "mark": {"type": "rect", "fill": "#ffffe1", "stroke": "#000000", "strokeWidth": 0.8}, "encoding": {"x2": {"field": "t2"}, "y2": {"field": "v2"}}},
    {"data": {"name": "tipt"}, "mark": {"type": "text", "align": "left", "baseline": "top", "fontSize": 4.6, "color": "#000000"}, "encoding": {"text": {"field": "s"}}},
    {"data": {"name": "rbox"}, "mark": {"type": "rect", "fill": "#f4f6ff", "stroke": "#2040b0", "strokeWidth": 1}, "encoding": {"x2": {"field": "t2"}, "y2": {"field": "v2"}}},
    {"data": {"name": "rbox"}, "mark": {"type": "text", "align": "left", "baseline": "top", "dx": 1.5, "dy": 1, "fontSize": 6.5, "color": "#1020a0"}, "encoding": {"text": {"field": "s"}}}
   ]},
  {"width": 387, "height": 49,
   "encoding": {"x": {"field": "t", "type": "quantitative", "scale": {"domain": [0, 387], "nice": false, "zero": false}, "axis": {"values": [16,35,53,72,90,109,126,145,163,181,199,217,236,253,272,290,308,326,344,362,381], "labels": false, "ticks": false, "grid": true, "title": null}},
                "y": {"field": "v", "type": "quantitative", "scale": {"domain": [-75000, 1805000], "nice": false, "zero": false}, "axis": {"orient": "right", "values": [0, 500000, 1000000, 1500000], "labelFontSize": 5, "labelExpr": "datum.value == 0 ? '0' : datum.value == 500000 ? '500 000' : datum.value == 1000000 ? '1 000 000' : '1 500 000'", "grid": true, "title": null}}},
   "layer": [
    {"data": {"name": "rv"}, "mark": {"type": "rule", "color": "#8db6f2", "strokeWidth": 2}, "encoding": {"y2": {"datum": 0}}},
    {"data": {"name": "vbox"}, "mark": {"type": "rect", "fill": "#f4f6ff", "stroke": "#2040b0", "strokeWidth": 1}, "encoding": {"x2": {"field": "t2"}, "y2": {"field": "v2"}}},
    {"data": {"name": "vbox"}, "mark": {"type": "text", "align": "left", "baseline": "top", "dx": 1.5, "dy": 1, "fontSize": 5.5, "color": "#1020a0"}, "encoding": {"text": {"field": "s"}}}
   ]},
  {"width": 387, "height": 20, "view": {"stroke": "#404060", "fill": "#eceef9"},
   "encoding": {"x": {"field": "t", "type": "quantitative", "scale": {"domain": [0, 387], "nice": false, "zero": false}, "axis": null},
                "y": {"field": "v", "type": "quantitative", "scale": {"domain": [0, 2], "nice": false, "zero": false}, "axis": null}},
   "layer": [
    {"data": {"values": [{"t": 0, "t2": 387, "v": 1}]}, "mark": {"type": "rule", "color": "#404060"}, "encoding": {"x2": {"field": "t2"}}},
    {"data": {"name": "rd"}, "mark": {"type": "rule", "color": "#404060"}, "encoding": {"y2": {"field": "v2"}}},
    {"data": {"name": "rd"}, "mark": {"type": "text", "align": "left", "baseline": "bottom", "dx": 2, "dy": -1.5, "fontSize": 7, "color": "#7a2040"}, "encoding": {"text": {"field": "s"}}}
   ]}
 ]}
]
}
